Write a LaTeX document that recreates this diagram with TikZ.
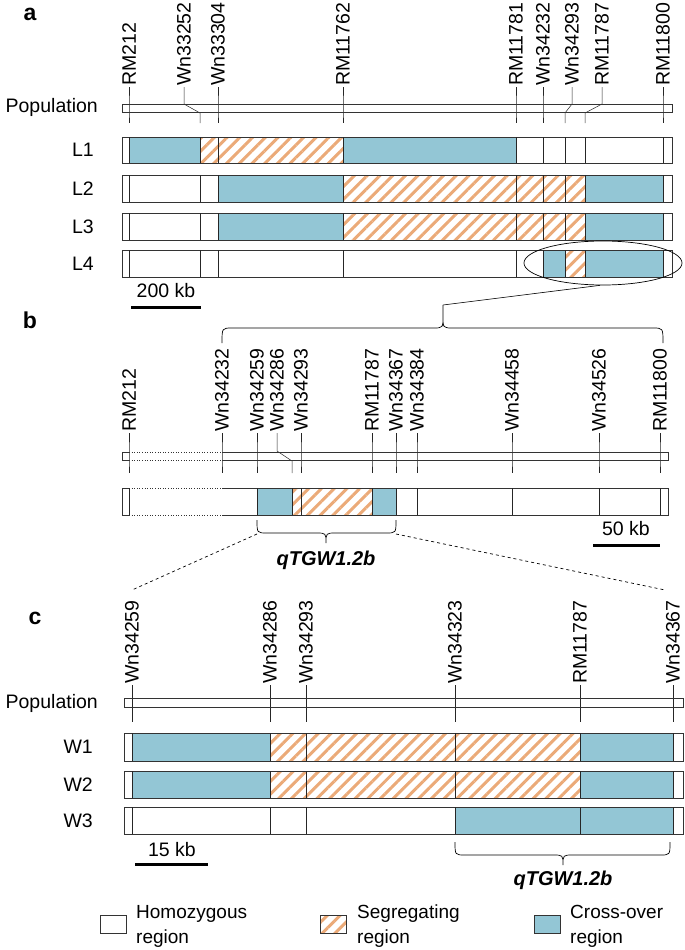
\documentclass[tikz,border=0pt]{standalone}
\usepackage{fontspec}
\setmainfont{Liberation Sans}
\usetikzlibrary{patterns.meta,shapes.geometric}
\definecolor{cblue}{HTML}{93C6D5}
\definecolor{chat}{HTML}{EBAA78}
\begin{document}
\begin{tikzpicture}[x=1pt,y=-1pt,
  lab/.style={rotate=90,anchor=west,inner sep=1pt,font=\fontsize{19.5}{21}\selectfont},
  rowlab/.style={anchor=east,inner sep=1pt,font=\fontsize{19.5}{21}\selectfont},
  panel/.style={anchor=center,font=\fontsize{23}{25}\selectfont\bfseries},
  qtl/.style={anchor=center,font=\fontsize{20}{22}\selectfont\bfseries\itshape},
  bar/.style={draw=black!80,line width=0.6pt},
  mk/.style={draw=black!85,line width=0.5pt},
  blu/.style={fill=cblue},
  hat/.style={pattern={Lines[angle=45,distance=9pt,line width=3pt]},pattern color=chat},
  sb/.style={line width=3pt},
  sbt/.style={font=\fontsize{19.5}{21}\selectfont,anchor=center}]
\useasboundingbox (0,0) rectangle (685,950);
% ---------- panel a
\node[panel] (pa) at (30,14) {a};
\foreach \n/\lx/\x in {RM212/129/129, Wn33252/184/200, Wn33304/218/218, RM11762/343/343, RM11781/516/516, Wn34232/543/543, Wn34293/572/565, RM11787/602/585, RM11800/663/663}{
  \node[lab] (a\n) at (\lx,87) {\n};
  \draw[mk] (a\n.west) -- (\lx,104) -- (\x,113) -- (\x,123);
}
\draw[bar] (122,104) rectangle (672,112);
\node[rowlab] (apop) at (99,107) {Population};
% rows
\fill[blu] (129,137) rectangle (200,163); \fill[hat] (200,137) rectangle (343,163); \fill[blu] (343,137) rectangle (516,163);
\fill[blu] (218,175) rectangle (343,202); \fill[hat] (343,175) rectangle (585,202); \fill[blu] (585,175) rectangle (663,202);
\fill[blu] (218,213) rectangle (343,240); \fill[hat] (343,213) rectangle (585,240); \fill[blu] (585,213) rectangle (663,240);
\fill[blu] (543,250) rectangle (565,277); \fill[hat] (565,250) rectangle (585,277); \fill[blu] (585,250) rectangle (663,277);
\foreach \r/\ya/\yb in {L1/137/163, L2/175/202, L3/213/240, L4/250/277}{
  \draw[bar] (122,\ya) rectangle (672,\yb);
  \foreach \x in {129,200,218,343,516,543,565,585,663} \draw[mk] (\x,\ya) -- (\x,\yb);
  \node[rowlab] (a\r) at (95,{(\ya+\yb)/2}) {\r};
}
\draw[sb] (131,307) -- (201,307);
\node[sbt] (asb) at (166,291) {200 kb};
\node[draw,ellipse,line width=0.7pt,minimum width=158pt,minimum height=44pt,inner sep=0] (ell) at (603,263) {};
\coordinate (btip) at (443,305);
\coordinate (es) at ([xshift=-3pt]ell.south);
\draw[line width=0.6pt] (es) -- (btip);
\draw[line width=0.7pt] (222,343) .. controls (222,328) .. (232,328) -- (433,328) .. controls (443,328) .. (443,316) -- (btip) (443,316) .. controls (443,328) .. (453,328) -- (653,328) .. controls (663,328) .. (663,343);
% ---------- panel b
\node[panel] (pb) at (30,320) {b};
\foreach \n/\lx/\x in {RM212/129/129, Wn34232/222/222, Wn34259/257/257, Wn34286/277/292, Wn34293/301/301, RM11787/372/372, Wn34367/396/396, Wn34384/417/417, Wn34458/512/512, Wn34526/599/599, RM11800/660/660}{
  \node[lab] (b\n) at (\lx,433) {\n};
  \draw[mk] (b\n.west) -- (\lx,451) -- (\x,461) -- (\x,473);
}
\draw[bar] (129,452) -- (122,452) -- (122,460) -- (129,460);
\draw[bar] (222,452) -- (668,452) -- (668,460) -- (222,460);
\draw[bar,dotted,line width=1pt] (129,452) -- (222,452) (129,460) -- (222,460);
\fill[blu] (257,488) rectangle (292,515); \fill[hat] (292,488) rectangle (372,515); \fill[blu] (372,488) rectangle (396,515);
\draw[bar] (129,488) -- (122,488) -- (122,515) -- (129,515);
\draw[bar] (222,488) -- (668,488) -- (668,515) -- (222,515);
\draw[bar,dotted,line width=1pt] (129,488) -- (222,488) (129,515) -- (222,515);
\foreach \x in {129,257,292,301,372,396,417,512,599,660} \draw[mk] (\x,488) -- (\x,515);
\draw[sb] (593,545) -- (660,545);
\node[sbt] (bsb) at (626,529) {50 kb};
\draw[line width=0.7pt] (257,520) .. controls (257,533) .. (267,533) -- (316,533) .. controls (326,533) .. (326,543) .. controls (326,533) .. (336,533) -- (386,533) .. controls (396,533) .. (396,520);
\node[qtl] (bq) at (326,560) {qTGW1.2b};
\coordinate (dl1) at (257,534); \coordinate (dl2) at (132,590);
\coordinate (dr1) at (396,534); \coordinate (dr2) at (665,590);
\draw[dashed,line width=0.7pt] (dl1) -- (dl2) (dr1) -- (dr2);
% ---------- panel c
\node[panel] (pc) at (35,618) {c};
\foreach \n/\x in {Wn34259/132, Wn34286/270, Wn34293/306, Wn34323/455, RM11787/580, Wn34367/673}{
  \node[lab] (c\n) at (\x,685) {\n};
  \draw[mk] (c\n.west) -- (\x,722);
}
\draw[bar] (124,698) rectangle (683,707);
\node[rowlab] (cpop) at (99,703) {Population};
\fill[blu] (132,733) rectangle (270,761); \fill[hat] (270,733) rectangle (580,761); \fill[blu] (580,733) rectangle (673,761);
\fill[blu] (132,771) rectangle (270,798); \fill[hat] (270,771) rectangle (580,798); \fill[blu] (580,771) rectangle (673,798);
\fill[blu] (455,807) rectangle (673,834);
\foreach \r/\ya/\yb in {W1/733/761, W2/771/798, W3/807/834}{
  \draw[bar] (124,\ya) rectangle (683,\yb);
  \foreach \x in {132,270,306,455,580,673} \draw[mk] (\x,\ya) -- (\x,\yb);
  \node[rowlab] (c\r) at (94,{(\ya+\yb)/2}) {\r};
}
\draw[sb] (135,864) -- (208,864);
\node[sbt] (csb) at (172,850) {15 kb};
\draw[line width=0.7pt] (455,842) .. controls (455,855) .. (465,855) -- (553,855) .. controls (563,855) .. (563,865) .. controls (563,855) .. (573,855) -- (660,855) .. controls (670,855) .. (670,842);
\node[qtl] (cq) at (563,880) {qTGW1.2b};
% ---------- legend
\node[bar,fill=white,minimum width=26pt,minimum height=18pt,inner sep=0] (lg1) at (113,924) {};
\node[bar,hat,minimum width=26pt,minimum height=18pt,inner sep=0] (lg2) at (333,924) {};
\node[bar,blu,minimum width=26pt,minimum height=18pt,inner sep=0] (lg3) at (547,924) {};
\node[anchor=west,align=left,inner sep=0,font=\fontsize{19}{25}\selectfont] (lt1) at (136,926) {Homozygous\\region};
\node[anchor=west,align=left,inner sep=0,font=\fontsize{19}{25}\selectfont] (lt2) at (357,926) {Segregating\\region};
\node[anchor=west,align=left,inner sep=0,font=\fontsize{19}{25}\selectfont] (lt3) at (570,926) {Cross-over\\region};
\end{tikzpicture}
\end{document}
